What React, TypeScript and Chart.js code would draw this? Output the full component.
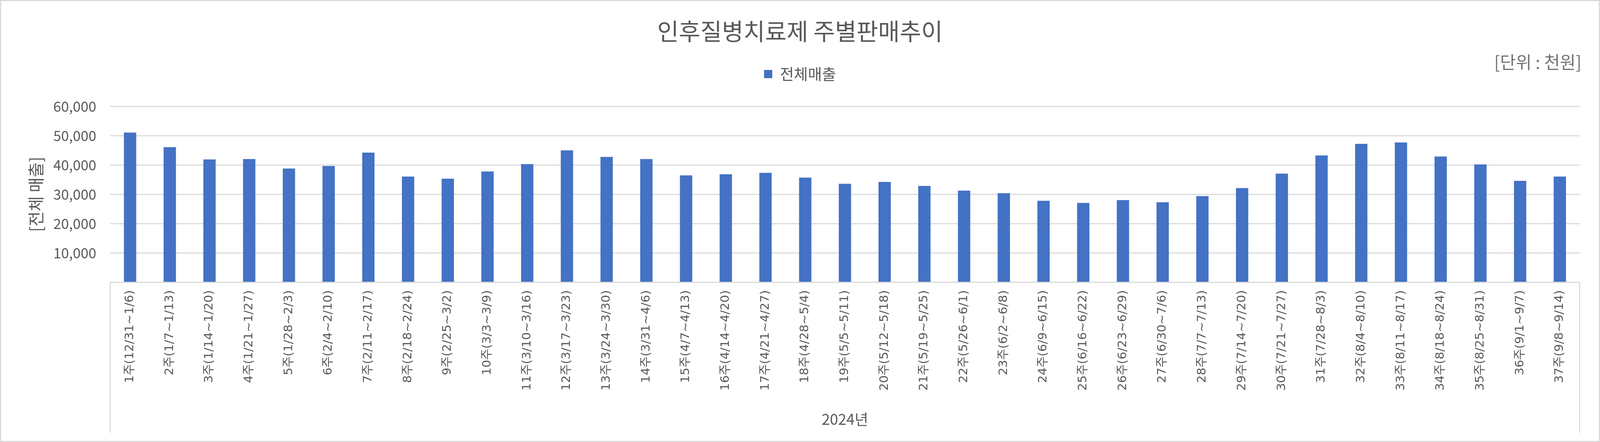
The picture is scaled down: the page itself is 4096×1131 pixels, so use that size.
import React, { useEffect, useRef } from 'react';
import { Chart, registerables, layouts } from 'chart.js';

Chart.register(...registerables);

// ---------- data ----------
const weekLabels: string[] = [
  '1주(12/31~1/6)', '2주(1/7~1/13)', '3주(1/14~1/20)', '4주(1/21~1/27)', '5주(1/28~2/3)',
  '6주(2/4~2/10)', '7주(2/11~2/17)', '8주(2/18~2/24)', '9주(2/25~3/2)', '10주(3/3~3/9)',
  '11주(3/10~3/16)', '12주(3/17~3/23)', '13주(3/24~3/30)', '14주(3/31~4/6)', '15주(4/7~4/13)',
  '16주(4/14~4/20)', '17주(4/21~4/27)', '18주(4/28~5/4)', '19주(5/5~5/11)', '20주(5/12~5/18)',
  '21주(5/19~5/25)', '22주(5/26~6/1)', '23주(6/2~6/8)', '24주(6/9~6/15)', '25주(6/16~6/22)',
  '26주(6/23~6/29)', '27주(6/30~7/6)', '28주(7/7~7/13)', '29주(7/14~7/20)', '30주(7/21~7/27)',
  '31주(7/28~8/3)', '32주(8/4~8/10)', '33주(8/11~8/17)', '34주(8/18~8/24)', '35주(8/25~8/31)',
  '36주(9/1~9/7)', '37주(9/8~9/14)',
];

const salesValues: number[] = [
  51030, 46090, 41880, 42010, 38790, 39660, 44230, 36070, 35330, 37800,
  40280, 44970, 42750, 42010, 36440, 36810, 37310, 35700, 33600, 34220,
  32860, 31250, 30390, 27790, 27050, 28040, 27300, 29400, 32120, 37060,
  43240, 47200, 47690, 42870, 40190, 34590, 36070,
];

const chartTitle = '인후질병치료제 주별판매추이';
const seriesName = '전체매출';
const yAxisTitle = '[전체 매출]';
const xGroupLabel = '2024년';
const unitLabel = '[단위 : 천원]';
const yMin = 0;
const yMax = 60000;
const yStep = 10000;

// ---------- layout / style ----------
const S = 0.925;
const W = 4096;
const H = 1131;
const PAD_SIDE = 52;
const PLOT_LEFT = 305 * S;
const PLOT_BOTTOM = 781 * S;
const GROUP_LINE_BOTTOM = 1197 * S;
const SPACER = 52.9;
const TEXT = '#595959';
const GRID = '#d9d9d9';
const BAR = '#4472C4';
const KR = "'Noto Sans CJK KR', 'Noto Sans', sans-serif";
const XFONT = "'DejaVu Sans', 'Noto Sans CJK KR', sans-serif";

// empty layout box between the legend and the plot area
const spacerPlugin = {
  id: 'spacer',
  beforeInit(chart: any) {
    const box: any = {
      position: 'top',
      weight: 1,
      fullSize: true,
      options: {},
      left: 0, top: 0, right: 0, bottom: 0, width: 0, height: 0,
      isHorizontal: () => true,
      update(maxWidth: number) {
        box.width = maxWidth;
        box.height = SPACER;
      },
      draw() {},
    };
    layouts.addBox(chart, box);
  },
};

const decorPlugin = {
  id: 'decor',
  afterDraw(chart: any) {
    const { ctx, chartArea } = chart;
    ctx.save();
    // outer frame
    ctx.strokeStyle = GRID;
    ctx.lineWidth = 2.8;
    ctx.strokeRect(1.4, 1.4, W - 2.8, H - 2.8);
    // category group dividers
    ctx.beginPath();
    ctx.moveTo(chartArea.left, chartArea.bottom);
    ctx.lineTo(chartArea.left, GROUP_LINE_BOTTOM);
    ctx.moveTo(chartArea.right, chartArea.bottom);
    ctx.lineTo(chartArea.right, GROUP_LINE_BOTTOM);
    ctx.stroke();
    // unit label
    ctx.fillStyle = '#767171';
    ctx.font = `44px ${KR}`;
    ctx.textAlign = 'right';
    ctx.textBaseline = 'middle';
    ctx.fillText(unitLabel, 4377 * S, 172 * S);
    ctx.restore();
  },
};

export default function App() {
  const ref = useRef<HTMLCanvasElement>(null);

  useEffect(() => {
    document.body.style.margin = '0';
    const canvas = ref.current;
    if (!canvas) return;
    const chart = new Chart(canvas, {
      type: 'bar',
      data: {
        labels: weekLabels,
        datasets: [
          {
            label: seriesName,
            data: salesValues,
            backgroundColor: BAR,
            borderWidth: 0,
            barPercentage: 0.31,
            categoryPercentage: 1,
          },
        ],
      },
      options: {
        responsive: false,
        animation: false,
        devicePixelRatio: 1,
        layout: { padding: { left: PAD_SIDE, right: PAD_SIDE, top: 0, bottom: 0 } },
        plugins: {
          title: {
            display: true,
            text: chartTitle,
            color: TEXT,
            font: { family: KR, size: 60, weight: 'normal' },
            padding: { top: 44.5, bottom: 0 },
          },
          legend: {
            display: true,
            position: 'top',
            labels: {
              color: TEXT,
              font: { family: KR, size: 39 },
              boxWidth: 21,
              boxHeight: 21,
              padding: 53.6,
            },
          },
          tooltip: { enabled: false },
        },
        scales: {
          x: {
            grid: { display: false, drawTicks: false },
            border: { display: true, color: GRID, width: 2.8 },
            ticks: {
              color: TEXT,
              font: { family: XFONT, size: 31 },
              autoSkip: false,
              maxRotation: 90,
              minRotation: 90,
              padding: 20,
            },
            title: {
              display: true,
              text: xGroupLabel,
              color: TEXT,
              font: { family: KR, size: 38 },
              padding: { top: 0, bottom: 35.2 },
            },
            afterFit(scale: any) {
              scale.height = H - PLOT_BOTTOM;
            },
          },
          y: {
            min: yMin,
            max: yMax,
            grid: { color: GRID, lineWidth: 2.8, drawTicks: false },
            border: { display: false },
            ticks: {
              stepSize: yStep,
              color: TEXT,
              font: { family: KR, size: 36 },
              padding: 35.6,
              callback: (v: any) => (Number(v) === 0 ? '' : Number(v).toLocaleString('en-US')),
            },
            title: {
              display: true,
              text: yAxisTitle,
              color: TEXT,
              font: { family: KR, size: 42 },
              padding: { top: 15.3, bottom: 0 },
            },
            afterFit(scale: any) {
              scale.width = PLOT_LEFT - PAD_SIDE;
            },
          },
        },
      },
      plugins: [spacerPlugin, decorPlugin],
    });
    return () => chart.destroy();
  }, []);

  return <canvas ref={ref} width={W} height={H} style={{ display: 'block' }} />;
}
